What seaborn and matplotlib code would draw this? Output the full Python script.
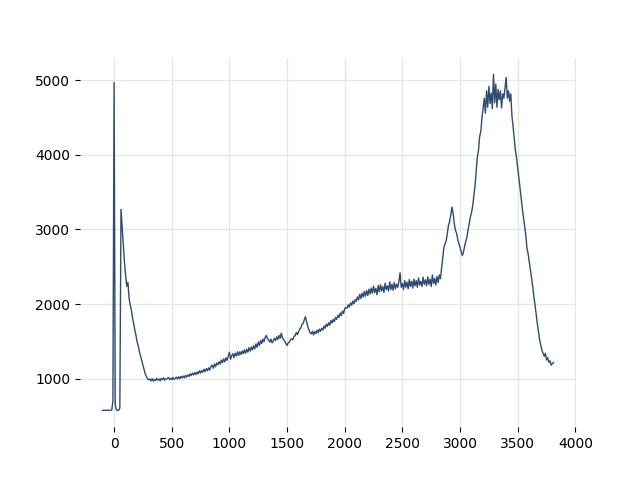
import numpy as np
import pandas as pd
import seaborn as sns
import matplotlib.pyplot as plt

# sampling grid of the trace (every 10 units from -100 to 3810)
x_start, x_stop, x_step = -100, 3810, 10

# intensity, one row per 100 units
y_m100 = [575, 575, 575, 574, 575, 575, 576, 576, 580, 700]
y_0000 = [4970, 650, 580, 575, 577, 605, 3270, 3040, 2790, 2560]
y_0100 = [2390, 2240, 2290, 2080, 1990, 1920, 1810, 1740, 1650, 1580]
y_0200 = [1490, 1440, 1360, 1300, 1240, 1180, 1120, 1065, 1030, 1000]
y_0300 = [985, 995, 970, 1000, 965, 990, 975, 1005, 980, 995]
y_0400 = [970, 1005, 985, 1010, 980, 995, 1000, 1015, 990, 1005]
y_0500 = [985, 1015, 990, 1005, 1020, 995, 1025, 1000, 1030, 1010]
y_0600 = [1035, 1010, 1045, 1020, 1050, 1030, 1065, 1040, 1075, 1050]
y_0700 = [1080, 1055, 1090, 1065, 1105, 1075, 1110, 1085, 1125, 1095]
y_0800 = [1135, 1105, 1145, 1115, 1165, 1180, 1140, 1195, 1160, 1210]
y_0900 = [1185, 1225, 1195, 1250, 1215, 1265, 1225, 1280, 1245, 1300]
y_1000 = [1355, 1260, 1310, 1335, 1280, 1340, 1305, 1360, 1310, 1360]
y_1100 = [1325, 1370, 1335, 1385, 1340, 1395, 1355, 1415, 1370, 1425]
y_1200 = [1385, 1440, 1400, 1465, 1420, 1490, 1445, 1510, 1470, 1530]
y_1300 = [1495, 1550, 1580, 1535, 1520, 1490, 1530, 1480, 1505, 1540]
y_1400 = [1510, 1560, 1525, 1580, 1540, 1610, 1550, 1520, 1500, 1470]
y_1500 = [1445, 1480, 1490, 1520, 1535, 1520, 1570, 1575, 1620, 1590]
y_1600 = [1630, 1665, 1685, 1730, 1740, 1795, 1830, 1760, 1700, 1650]
y_1700 = [1615, 1600, 1635, 1585, 1630, 1605, 1650, 1615, 1665, 1635]
y_1800 = [1675, 1650, 1705, 1675, 1730, 1700, 1750, 1715, 1780, 1745]
y_1900 = [1795, 1765, 1820, 1795, 1850, 1820, 1880, 1845, 1905, 1875]
y_2000 = [1940, 1955, 1945, 1990, 1960, 2015, 1985, 2040, 2005, 2060]
y_2100 = [2035, 2095, 2055, 2130, 2075, 2145, 2095, 2170, 2105, 2180]
y_2200 = [2115, 2200, 2135, 2215, 2145, 2240, 2155, 2210, 2125, 2250]
y_2300 = [2165, 2260, 2175, 2235, 2155, 2280, 2195, 2245, 2175, 2300]
y_2400 = [2195, 2265, 2185, 2290, 2205, 2265, 2225, 2305, 2420, 2225]
y_2500 = [2275, 2195, 2315, 2225, 2295, 2205, 2330, 2235, 2305, 2215]
y_2600 = [2335, 2245, 2315, 2225, 2350, 2255, 2305, 2235, 2360, 2265]
y_2700 = [2325, 2245, 2365, 2265, 2335, 2235, 2390, 2275, 2345, 2255]
y_2800 = [2370, 2290, 2390, 2340, 2480, 2620, 2760, 2810, 2850, 2950]
y_2900 = [3060, 3110, 3200, 3300, 3220, 3080, 2990, 2950, 2870, 2810]
y_3000 = [2760, 2700, 2650, 2700, 2780, 2840, 2900, 3000, 3080, 3170]
y_3100 = [3230, 3320, 3460, 3590, 3780, 3970, 4060, 4250, 4310, 4500]
y_3200 = [4620, 4760, 4560, 4860, 4640, 4920, 4690, 4830, 4620, 5080]
y_3300 = [4700, 4950, 4640, 4880, 4740, 4860, 4630, 4820, 4760, 4900]
y_3400 = [5040, 4760, 4860, 4720, 4820, 4520, 4380, 4220, 4060, 3960]
y_3500 = [3830, 3700, 3560, 3420, 3280, 3160, 3040, 2930, 2750, 2680]
y_3600 = [2570, 2470, 2360, 2240, 2100, 1990, 1860, 1740, 1630, 1520]
y_3700 = [1450, 1380, 1340, 1300, 1340, 1250, 1280, 1220, 1240, 1180]
y_3800 = [1200, 1215]

rows = [y_m100, y_0000, y_0100, y_0200, y_0300, y_0400, y_0500, y_0600,
        y_0700, y_0800, y_0900, y_1000, y_1100, y_1200, y_1300, y_1400,
        y_1500, y_1600, y_1700, y_1800, y_1900, y_2000, y_2100, y_2200,
        y_2300, y_2400, y_2500, y_2600, y_2700, y_2800, y_2900, y_3000,
        y_3100, y_3200, y_3300, y_3400, y_3500, y_3600, y_3700, y_3800]


def main():
    values = [v for row in rows for v in row]
    df = pd.DataFrame({
        'x': np.arange(x_start, x_stop + 1, x_step),
        'y': values,
    })

    fig, ax = plt.subplots(figsize=(6.4, 4.8), dpi=100)

    sns.lineplot(data=df, x='x', y='y', ax=ax, color='#2f4b72', linewidth=1)

    # light grid, no frame
    ax.grid(True, color='#e6e6e6', linewidth=1)
    ax.set_axisbelow(True)
    sns.despine(ax=ax, left=True, bottom=True)
    ax.set_xlabel('')
    ax.set_ylabel('')
    ax.set_xticks(range(0, 4001, 500))
    ax.set_yticks(range(1000, 5001, 1000))

    fig.savefig('out.png', dpi=100)


if __name__ == '__main__':
    main()
